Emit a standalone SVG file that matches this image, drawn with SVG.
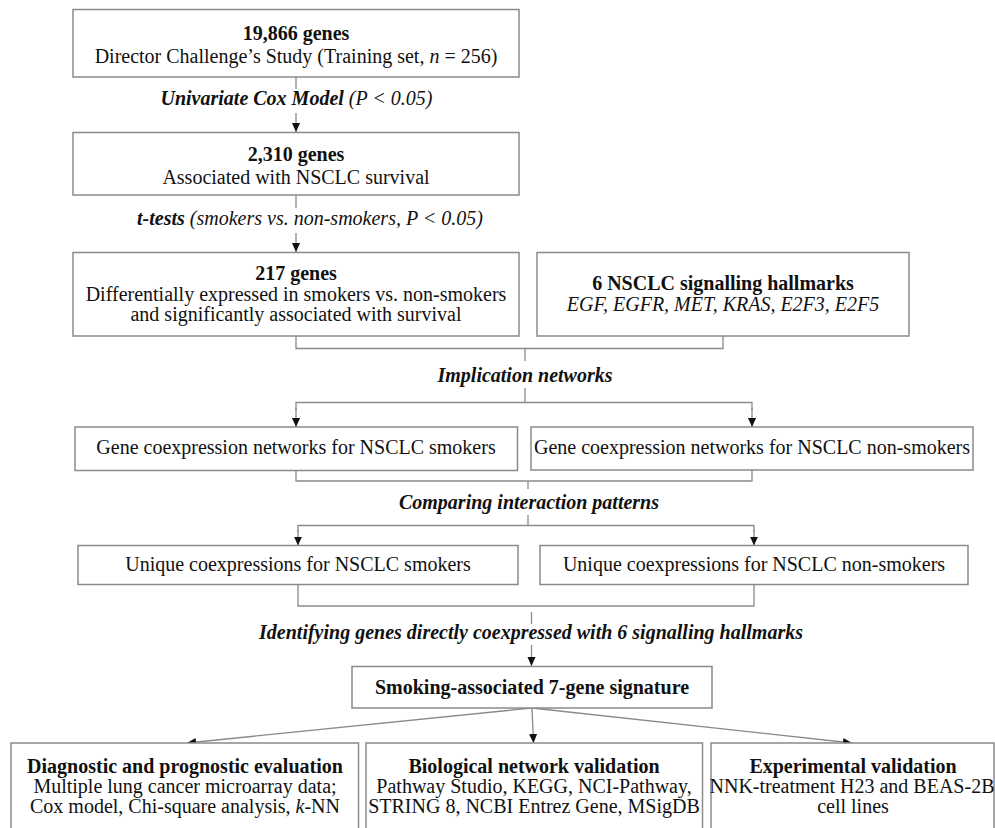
<svg xmlns="http://www.w3.org/2000/svg" width="995" height="828" viewBox="0 0 995 828">
<defs>
<style>
.box{fill:#fff;stroke:#8a8a8a;stroke-width:1.5}
.ln{fill:none;stroke:#8a8a8a;stroke-width:1.3}
text{font-family:'Liberation Serif','Times New Roman',Times,'DejaVu Serif',serif;font-size:20px;fill:#111;text-anchor:middle}
.b{font-weight:bold}
.i{font-style:italic}
.bi{font-weight:bold;font-style:italic}
</style>
<marker id="ah" viewBox="0 0 10 10" refX="10" refY="5" markerWidth="9" markerHeight="9" orient="auto" markerUnits="userSpaceOnUse">
<path d="M0,0.5 L10,5 L0,9.5 z" fill="#111"/>
</marker>
</defs>
<rect width="995" height="828" fill="#fff"/>

<g id="connectors">
<line class="ln" x1="296" y1="77" x2="296" y2="89"/>
<line class="ln" x1="296" y1="113" x2="296" y2="132" marker-end="url(#ah)"/>
<line class="ln" x1="296" y1="195" x2="296" y2="208"/>
<line class="ln" x1="296" y1="233" x2="296" y2="252" marker-end="url(#ah)"/>
<polyline class="ln" points="296,336 296,348.5 723,348.5 723,336"/>
<line class="ln" x1="525" y1="348.5" x2="525" y2="361"/>
<line class="ln" x1="525" y1="388" x2="525" y2="402.5"/>
<polyline class="ln" points="296,410 296,402.5 752,402.5 752,410"/>
<line class="ln" x1="296" y1="408" x2="296" y2="427" marker-end="url(#ah)"/>
<line class="ln" x1="752" y1="408" x2="752" y2="427" marker-end="url(#ah)"/>
<polyline class="ln" points="296,471 296,481 752,481 752,470"/>
<line class="ln" x1="528" y1="481" x2="528" y2="489"/>
<line class="ln" x1="528" y1="515" x2="528" y2="525.5"/>
<polyline class="ln" points="298,532 298,525.5 754,525.5 754,532"/>
<line class="ln" x1="298" y1="530" x2="298" y2="545.5" marker-end="url(#ah)"/>
<line class="ln" x1="754" y1="530" x2="754" y2="545.5" marker-end="url(#ah)"/>
<polyline class="ln" points="298,584 298,606 754,606 754,584"/>
<line class="ln" x1="531.5" y1="612" x2="531.5" y2="624"/>
<line class="ln" x1="531.5" y1="645" x2="531.5" y2="666" marker-end="url(#ah)"/>
<line class="ln" x1="532" y1="708" x2="187" y2="743" marker-end="url(#ah)"/>
<line class="ln" x1="532" y1="708" x2="533.5" y2="743" marker-end="url(#ah)"/>
<line class="ln" x1="532" y1="708" x2="852" y2="743" marker-end="url(#ah)"/>
</g>

<g id="labels" font-family="'Liberation Serif', 'Times New Roman', serif">
<text x="296.5" y="105"><tspan class="bi">Univariate Cox Model</tspan><tspan class="i"> (P &lt; 0.05)</tspan></text>
<text x="310" y="225"><tspan class="bi">t-tests</tspan><tspan class="i"> (smokers vs. non-smokers, P &lt; 0.05)</tspan></text>
<text class="bi" x="525" y="381.5">Implication networks</text>
<text class="bi" x="529" y="509">Comparing interaction patterns</text>
<text class="bi" x="531" y="639">Identifying genes directly coexpressed with 6 signalling hallmarks</text>
</g>

<g id="n1">
<rect class="box" x="73" y="9.5" width="446" height="67.5"/>
<text class="b" x="296" y="39.5">19,866 genes</text>
<text x="296" y="63">Director Challenge’s Study (Training set, <tspan class="i">n</tspan> = 256)</text>
</g>

<g id="n2">
<rect class="box" x="73" y="132.5" width="446" height="62.5"/>
<text class="b" x="296" y="160.5">2,310 genes</text>
<text x="296" y="183.5">Associated with NSCLC survival</text>
</g>

<g id="n3">
<rect class="box" x="73" y="252.5" width="446" height="83.5"/>
<text class="b" x="296" y="280">217 genes</text>
<text x="296" y="300.5">Differentially expressed in smokers vs. non-smokers</text>
<text x="296" y="320.5">and significantly associated with survival</text>
</g>

<g id="n4">
<rect class="box" x="537" y="252.5" width="372" height="83.5"/>
<text class="b" x="723" y="290">6 NSCLC signalling hallmarks</text>
<text class="i" x="723" y="310.5">EGF, EGFR, MET, KRAS, E2F3, E2F5</text>
</g>

<g id="n5">
<rect class="box" x="75" y="427" width="442.5" height="43.5"/>
<text x="296" y="454">Gene coexpression networks for NSCLC smokers</text>
</g>

<g id="n6">
<rect class="box" x="531" y="427" width="442" height="43"/>
<text x="752" y="454">Gene coexpression networks for NSCLC non-smokers</text>
</g>

<g id="n7">
<rect class="box" x="78" y="545.5" width="440" height="39"/>
<text x="298" y="570.5">Unique coexpressions for NSCLC smokers</text>
</g>

<g id="n8">
<rect class="box" x="540" y="545.5" width="428" height="39"/>
<text x="754" y="570.5">Unique coexpressions for NSCLC non-smokers</text>
</g>

<g id="n9">
<rect class="box" x="352" y="666.5" width="360" height="41.5"/>
<text class="b" x="532" y="693.5">Smoking-associated 7-gene signature</text>
</g>

<g id="n10">
<rect class="box" x="11" y="743" width="347.5" height="100"/>
<text class="b" x="185" y="772.5">Diagnostic and prognostic evaluation</text>
<text x="185" y="792.5">Multiple lung cancer microarray data;</text>
<text x="185" y="812.5">Cox model, Chi-square analysis, <tspan class="i">k</tspan>-NN</text>
</g>

<g id="n11">
<rect class="box" x="366" y="743" width="336.5" height="100"/>
<text class="b" x="534" y="772.5">Biological network validation</text>
<text x="534" y="792.5">Pathway Studio, KEGG, NCI-Pathway,</text>
<text x="534" y="812.5">STRING 8, NCBI Entrez Gene, MSigDB</text>
</g>

<g id="n12">
<rect class="box" x="711" y="743" width="283" height="100"/>
<text class="b" x="853" y="772.5">Experimental validation</text>
<text x="852" y="792.5">NNK-treatment H23 and BEAS-2B</text>
<text x="853" y="812.5">cell lines</text>
</g>
</svg>
